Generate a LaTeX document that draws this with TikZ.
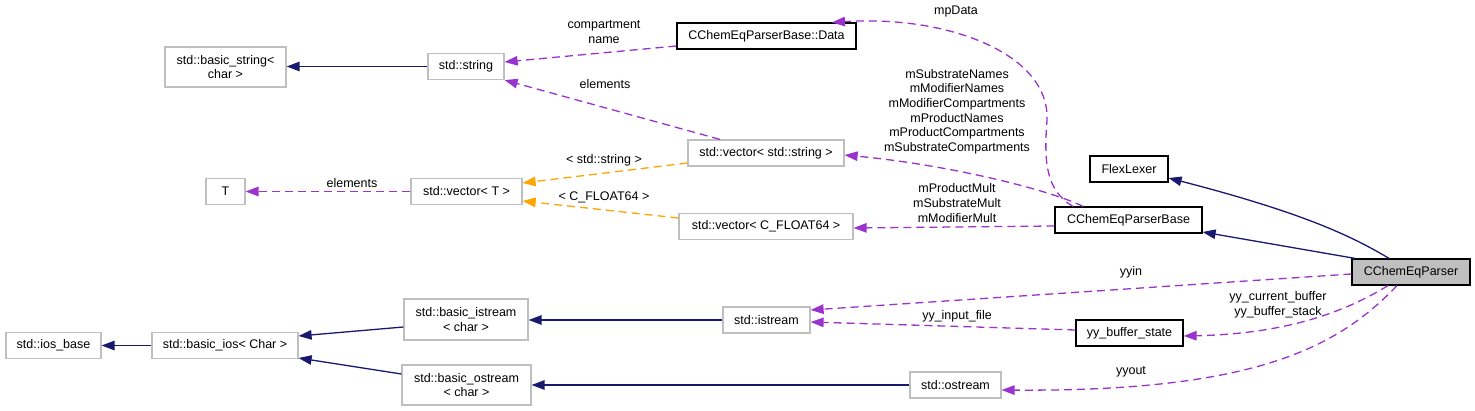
\documentclass[tikz,border=0pt]{standalone}
\usepackage{fontspec}
\setmainfont{Liberation Sans}
\usetikzlibrary{arrows.meta}
\definecolor{navyc}{RGB}{25,25,112}
\definecolor{purc}{RGB}{154,50,205}
\definecolor{orac}{RGB}{255,165,0}
\definecolor{boxgray}{RGB}{191,191,191}
\begin{document}
\begin{tikzpicture}[x=1pt,y=-1pt,
  every node/.style={font=\fontsize{12.5}{14.6}\selectfont, inner sep=0pt, align=center},
  gbox/.style={draw=boxgray, line width=1.2pt, fill=white, minimum height=26pt},
  kbox/.style={draw=black, line width=1.2pt, fill=white, minimum height=26pt},
  lbl/.style={},
  inh/.style={draw=navyc, line width=1.3pt, -{Triangle[length=13pt,width=9.5pt]}},
  use/.style={draw=purc, line width=1.3pt, dash pattern=on 8pt off 5pt, -{Triangle[length=13pt,width=9.5pt]}},
  tpl/.style={draw=orac, line width=1.3pt, dash pattern=on 8pt off 5pt, -{Triangle[length=13pt,width=9.5pt]}}
]
\useasboundingbox (0,0) rectangle (1475,411);

% nodes
\node[gbox, minimum width=121pt, minimum height=40pt] (bstr) at (225.5,67) {std::basic\_string<\\char >};
\node[gbox, minimum width=76pt] (str) at (466,66.5) {std::string};
\node[kbox, minimum width=179pt] (data) at (766.5,36) {CChemEqParserBase::Data};
\node[gbox, minimum width=39pt] (T) at (225.5,191.5) {T};
\node[gbox, minimum width=111pt] (vT) at (466.5,191.5) {std::vector< T >};
\node[gbox, minimum width=156pt] (vs) at (766,153) {std::vector< std::string >};
\node[gbox, minimum width=174pt] (vF) at (766,226.5) {std::vector< C\_FLOAT64 >};
\node[kbox, minimum width=78pt] (flex) at (1129,169) {FlexLexer};
\node[kbox, minimum width=147pt] (base) at (1128.5,220) {CChemEqParserBase};
\node[kbox, fill=boxgray, minimum width=118pt] (parser) at (1411,272) {CChemEqParser};
\node[kbox, minimum width=107pt] (ybs) at (1129.5,333) {yy\_buffer\_state};
\node[gbox, minimum width=87pt] (is) at (766.5,320) {std::istream};
\node[gbox, minimum width=91pt] (os) at (955.5,385) {std::ostream};
\node[gbox, minimum width=124pt, minimum height=41pt] (bis) at (466,319.5) {std::basic\_istream\\< char >};
\node[gbox, minimum width=129pt, minimum height=40pt] (bos) at (466.5,385) {std::basic\_ostream\\< char >};
\node[gbox, minimum width=146pt] (bios) at (225,345.5) {std::basic\_ios< Char >};
\node[gbox, minimum width=95pt] (iosb) at (53.5,345.5) {std::ios\_base};

% inheritance
\draw[inh] (str.west) -- (bstr.east |- str.west);
\draw[inh] (is.west) -- (is.west -| bis.east);
\draw[inh] (os.west) -- (os.west -| bos.east);
\draw[inh] ([yshift=-7.5pt]bis.west) -- ([yshift=9.5pt]bios.east);
\draw[inh] ([yshift=11pt]bos.west) -- ([yshift=-12.5pt]bios.east);
\draw[inh] (bios.west) -- (iosb.east);
\draw[inh] ([xshift=-22pt]parser.north) .. controls (1350,235) and (1300,212) .. ([yshift=-9pt]flex.east);
\draw[inh] ([xshift=-56pt]parser.north) -- ([yshift=-12pt]base.east);

% templates
\draw[tpl] ([yshift=-10pt]vs.west) -- ([yshift=8.5pt]vT.east);
\draw[tpl] ([yshift=8.5pt]vF.west) -- ([yshift=-9.5pt]vT.east);

% usage
\draw[use] ([yshift=-10pt]data.west) -- ([yshift=4.5pt]str.east);
\draw[use] ([xshift=-46pt]vs.north) -- (str.south east);
\draw[use] (vT.west) -- (T.east);
\draw[use] ([xshift=-55.5pt]base.north) .. controls (1045,190) and (1044,160) .. (1047,120)
   .. controls (1050,55) and (950,15) .. ([xshift=65.5pt]data.north);
\draw[use] ([xshift=-45.5pt]base.north) .. controls (1050,190) and (950,165) .. ([yshift=-2pt]vs.east);
\draw[use] ([yshift=-6pt]base.west) -- ([yshift=-1.5pt]vF.east);
\draw[use] ([yshift=-2pt]parser.west) -- ([yshift=10pt]is.east);
\draw[use] ([yshift=3pt]ybs.west) -- ([yshift=-2pt]is.east);
\draw[use] ([xshift=-23pt]parser.south) .. controls (1340,315) and (1280,334) .. ([yshift=-3pt]ybs.east);
\draw[use] ([xshift=-14pt]parser.south) .. controls (1340,345) and (1260,392) .. ([yshift=-5pt]os.east);

% labels
\node[lbl] (l1) at (604,32) {compartment\\name};
\node[lbl] (l2) at (605,84) {elements};
\node[lbl] (l3) at (352,183) {elements};
\node[lbl] (l4) at (604,160) {< std::string >};
\node[lbl] (l5) at (604,197) {< C\_FLOAT64 >};
\node[lbl] (l6) at (956,12) {mpData};
\node[lbl] (l7) at (957,111.5) {mSubstrateNames\\mModifierNames\\mModifierCompartments\\mProductNames\\mProductCompartments\\mSubstrateCompartments};
\node[lbl] (l8) at (957,203) {mProductMult\\mSubstrateMult\\mModifierMult};
\node[lbl] (l9) at (1131,272) {yyin};
\node[lbl] (l10) at (957,316) {yy\_input\_file};
\node[lbl] (l11) at (1278,304.5) {yy\_current\_buffer\\yy\_buffer\_stack};
\node[lbl] (l12) at (1131,372) {yyout};
\end{tikzpicture}
\end{document}
